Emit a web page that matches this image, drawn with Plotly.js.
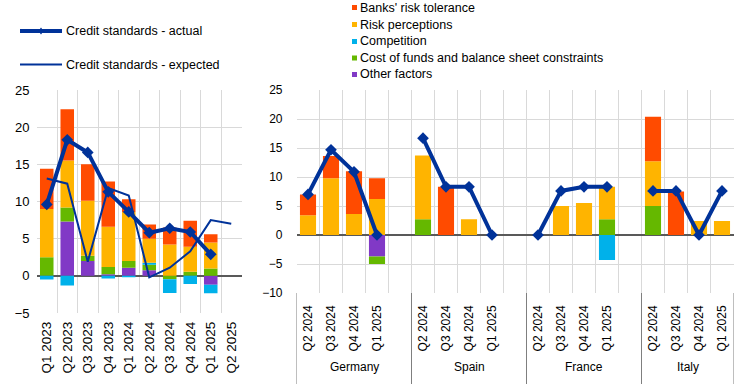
<!DOCTYPE html>
<html>
<head>
<meta charset="utf-8">
<script src="https://cdn.plot.ly/plotly-3.0.1.min.js"></script>
<style>
  html, body { margin: 0; padding: 0; background: #fff; }
  #chart { width: 744px; height: 384px; }
</style>
</head>
<body>
<div id="chart"></div>
<script>
// ---------- DATA ----------
// Left panel: euro area
const leftCats = ["Q1 2023","Q2 2023","Q3 2023","Q4 2023","Q1 2024","Q2 2024","Q3 2024","Q4 2024","Q1 2025","Q2 2025"];
const euBanksRisk   = [5.4, 6.9, 4.9, 6.1, 1.7, 1.9, 2.3, 3.5, 1.1, null];
const euRiskPerc    = [6.5, 6.3, 7.4, 5.4, 6.6, 3.25, 4.2, 3.35, 3.5, null];
const euCompetition = [-0.5, -1.3, 0, -0.35, -0.2, 0.25, -1.85, -1.1, -1.15, null];
const euCostFunds   = [2.5, 1.9, 0.7, 1.0, 0.9, 0.75, -0.45, 0.55, 1.0, null];
const euOther       = [0, 7.3, 2.0, 0.2, 1.1, 0.75, 0, 0, -1.2, null];
const euActual      = [9.6, 18.3, 16.6, 11.3, 8.6, 5.8, 6.4, 5.9, 2.9, null];
const euExpected    = [13.1, 12.4, 1.9, 11.8, 10.8, -0.2, 1.1, 3.3, 7.5, 7.0];

// Right panel: countries
const countries = ["Germany","Spain","France","Italy"];
const quarters  = ["Q2 2024","Q3 2024","Q4 2024","Q1 2025"];
const ctBanksRisk   = { Germany:[3.6, 3.8, 7.4, 3.6], Spain:[null, 8.3, null, null], France:[null, null, null, null], Italy:[7.7, 7.5, null, null] };
const ctRiskPerc    = { Germany:[3.4, 9.8, 3.6, 6.2], Spain:[11.0, null, 2.7, null], France:[null, 5.0, 5.5, 5.6], Italy:[7.7, null, 2.4, 2.4] };
const ctCompetition = { Germany:[null, null, null, null], Spain:[null, null, null, null], France:[null, null, null, -4.3], Italy:[null, null, null, null] };
const ctCostFunds   = { Germany:[null, null, null, -1.3], Spain:[2.7, null, null, null], France:[null, null, null, 2.7], Italy:[5.0, null, null, null] };
const ctOther       = { Germany:[null, null, null, -3.7], Spain:[null, null, null, null], France:[null, null, null, null], Italy:[null, null, null, null] };
const ctActual      = { Germany:[7.0, 14.7, 10.9, 0], Spain:[16.7, 8.3, 8.3, 0], France:[0, 7.6, 8.3, 8.3], Italy:[7.6, 7.6, 0, 7.6] };

const seriesNames = ["Banks' risk tolerance","Risk perceptions","Competition","Cost of funds and balance sheet constraints","Other factors"];
const lineNames = ["Credit standards - actual","Credit standards - expected"];

// axis ranges
const leftYRange = [-5, 25];
const rightYRange = [-10, 25];

// ---------- STYLE ----------
const COL = {
  banks: "#FF4B00", risk: "#FFB400", comp: "#00B1EA", cost: "#65B800", other: "#8139C6",
  line: "#003299", grid: "#D9D9D9", zero: "#595959", sep: "#7F7F7F"
};
const FONT = "Arial, 'Liberation Sans', sans-serif";
const W = 744, H = 384;
const px = x => x / W;
const py = y => 1 - y / H;

// ---------- CATEGORY POSITIONS ----------
// left: position of each category = its index in leftCats
const leftX = leftCats.map((c, i) => i);

// right: countries with an empty slot after each group (except the last)
const rightCats = [], rightTickText = [], groupStart = [], groupEnd = [];
countries.forEach((c, ci) => {
  groupStart.push(rightCats.length);
  quarters.forEach(q => { rightCats.push(c + " " + q); rightTickText.push(q); });
  if (ci < countries.length - 1) { rightCats.push(c + " gap"); rightTickText.push(""); }
  groupEnd.push(rightCats.length - 1);
});
const rightIdx = key => rightCats.indexOf(key);
const rightBarX = [];
countries.forEach(c => quarters.forEach(q => rightBarX.push(rightIdx(c + " " + q))));
const flat = obj => countries.flatMap(c => obj[c]);
const rightLineX = [], rightLineY = [];
countries.forEach((c, ci) => {
  quarters.forEach((q, qi) => { rightLineX.push(rightIdx(c + " " + q)); rightLineY.push(ctActual[c][qi]); });
  if (ci < countries.length - 1) { rightLineX.push(rightIdx(c + " gap")); rightLineY.push(null); }
});
const rightTickVals = rightCats.map((c, i) => i);

// ---------- TRACES ----------
const traces = [];
const barDefs = [
  { name: seriesNames[4], color: COL.other, left: euOther, right: ctOther },
  { name: seriesNames[3], color: COL.cost, left: euCostFunds, right: ctCostFunds },
  { name: seriesNames[2], color: COL.comp, left: euCompetition, right: ctCompetition },
  { name: seriesNames[1], color: COL.risk, left: euRiskPerc, right: ctRiskPerc },
  { name: seriesNames[0], color: COL.banks, left: euBanksRisk, right: ctBanksRisk }
];
barDefs.forEach(d => {
  traces.push({ type: "bar", name: d.name, x: leftX, y: d.left, xaxis: "x", yaxis: "y",
    marker: { color: d.color, line: { width: 0 } }, width: 0.66, showlegend: false, hoverinfo: "skip" });
  traces.push({ type: "bar", name: d.name, x: rightBarX, y: flat(d.right), xaxis: "x2", yaxis: "y2",
    marker: { color: d.color, line: { width: 0 } }, width: 0.7, showlegend: false, hoverinfo: "skip" });
});
traces.push({ type: "scatter", mode: "lines+markers", name: lineNames[0], x: leftX, y: euActual,
  xaxis: "x", yaxis: "y", line: { color: COL.line, width: 4 },
  marker: { symbol: "diamond", size: 9, color: COL.line }, showlegend: false, hoverinfo: "skip" });
traces.push({ type: "scatter", mode: "lines", name: lineNames[1], x: leftX, y: euExpected,
  xaxis: "x", yaxis: "y", line: { color: COL.line, width: 2 }, showlegend: false, hoverinfo: "skip" });
traces.push({ type: "scatter", mode: "lines+markers", name: lineNames[0], x: rightLineX, y: rightLineY,
  connectgaps: false, xaxis: "x2", yaxis: "y2", line: { color: COL.line, width: 4 },
  marker: { symbol: "diamond", size: 9, color: COL.line }, showlegend: false, hoverinfo: "skip" });

// ---------- LAYOUT ----------
const leftFont = { family: FONT, size: 13, color: "#000" };
const rightFont = { family: FONT, size: 12, color: "#000" };
const legFont = { family: FONT, size: 12.5, color: "#000" };
const shapes = [], annotations = [];

// group separators and group names in right panel
const seps = [-0.5].concat(groupEnd.map(e => e + 0.5));
seps.forEach(s => shapes.push({ type: "line", xref: "x2", yref: "paper", x0: s, x1: s,
  y0: py(384), y1: py(293), line: { color: COL.sep, width: 1 } }));
countries.forEach((c, i) => annotations.push({ xref: "x2", yref: "paper",
  x: (groupStart[i] + groupEnd[i]) / 2, y: py(367), text: c, showarrow: false,
  xanchor: "center", yanchor: "middle", font: rightFont }));

// line legend (top left)
const lineLegRows = [31, 64.5];
shapes.push({ type: "line", xref: "paper", yref: "paper", x0: px(20), x1: px(62), y0: py(lineLegRows[0]), y1: py(lineLegRows[0]),
  line: { color: COL.line, width: 4 } });
shapes.push({ type: "path", xref: "paper", yref: "paper",
  path: `M ${px(41)} ${py(lineLegRows[0] - 3.5)} L ${px(43.5)} ${py(lineLegRows[0])} L ${px(41)} ${py(lineLegRows[0] + 3.5)} L ${px(38.5)} ${py(lineLegRows[0])} Z`,
  fillcolor: COL.line, line: { width: 0 } });
shapes.push({ type: "line", xref: "paper", yref: "paper", x0: px(20), x1: px(62), y0: py(lineLegRows[1]), y1: py(lineLegRows[1]),
  line: { color: COL.line, width: 2 } });
lineNames.forEach((n, i) => annotations.push({ xref: "paper", yref: "paper", x: px(64), y: py(lineLegRows[i]),
  text: n, showarrow: false, xanchor: "left", yanchor: "middle", font: legFont }));

// bar legend (top centre)
const barLegRows = [7.5, 24.5, 41.5, 58, 74.5];
const barLegCols = [COL.banks, COL.risk, COL.comp, COL.cost, COL.other];
seriesNames.forEach((n, i) => {
  shapes.push({ type: "rect", xref: "paper", yref: "paper", x0: px(352), x1: px(357),
    y0: py(barLegRows[i] - 2.5), y1: py(barLegRows[i] + 2.5), fillcolor: barLegCols[i], line: { width: 0 } });
  annotations.push({ xref: "paper", yref: "paper", x: px(357.5), y: py(barLegRows[i]), text: n,
    showarrow: false, xanchor: "left", yanchor: "middle", font: legFont });
});

// minor gridlines at category boundaries (half a slot either side of each label)
const boundaryGrid = { tickmode: "linear", tick0: -0.5, dtick: 1, showgrid: true,
  gridcolor: COL.grid, gridwidth: 1, ticks: "" };

const layout = {
  width: W, height: H,
  margin: { l: 0, r: 0, t: 0, b: 0 },
  paper_bgcolor: "#ffffff", plot_bgcolor: "#ffffff",
  font: rightFont,
  barmode: "relative",
  showlegend: false,
  xaxis: { domain: [px(36.5), px(241.5)], anchor: "y", type: "linear",
    range: [-0.5, leftCats.length - 0.5], tickmode: "array", tickvals: leftX, ticktext: leftCats,
    showgrid: false, zeroline: false, showline: false, minor: boundaryGrid,
    ticks: "", tickangle: -90, tickfont: { family: FONT, size: 13.5, color: "#000" }, ticklabelstandoff: 5, fixedrange: true },
  yaxis: { domain: [py(313), py(90)], anchor: "x", range: leftYRange, dtick: 5, tick0: 0,
    showgrid: true, gridcolor: COL.grid, gridwidth: 1, zeroline: true, zerolinecolor: COL.zero,
    zerolinewidth: 1.5, showline: false, ticks: "", tickfont: leftFont, ticklabelstandoff: 6, fixedrange: true },
  xaxis2: { domain: [px(296.5), px(733.5)], anchor: "y2", type: "linear",
    range: [-0.5, rightCats.length - 0.5], tickmode: "array", tickvals: rightTickVals, ticktext: rightTickText,
    showgrid: false, zeroline: false, showline: false, minor: boundaryGrid,
    ticks: "", tickangle: -90, tickfont: rightFont, ticklabelstandoff: 9, fixedrange: true },
  yaxis2: { domain: [py(293), py(90)], anchor: "x2", range: rightYRange, dtick: 5, tick0: 0,
    showgrid: true, gridcolor: COL.grid, gridwidth: 1, zeroline: true, zerolinecolor: COL.zero,
    zerolinewidth: 1.5, showline: false, ticks: "", tickfont: rightFont, ticklabelstandoff: 13, fixedrange: true },
  shapes: shapes,
  annotations: annotations
};

Plotly.newPlot("chart", traces, layout, { staticPlot: true, displayModeBar: false });
</script>
</body>
</html>
